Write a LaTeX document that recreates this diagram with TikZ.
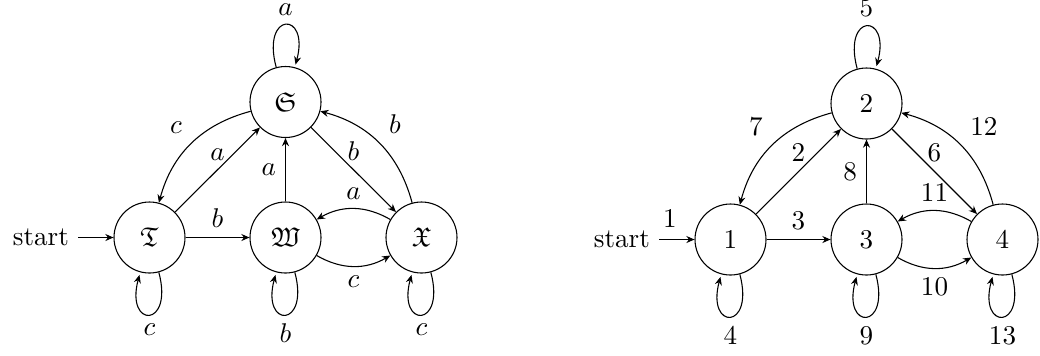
\documentclass[tikz,border=0pt]{standalone}
\usepackage{amssymb}
\usetikzlibrary{arrows.meta,positioning}
\begin{document}
\begin{tikzpicture}[x=0.369pt,y=0.369pt,
  >={Stealth[length=3pt,width=2.6pt]},
  st/.style={circle,draw,minimum size=26.2pt,inner sep=0pt}]
\useasboundingbox (0,0) rectangle (1040,-355);
% left automaton
\node[st] (T) at (149.5,-237.5) {$\mathfrak{T}$};
\node[st] (W) at (285.5,-237.5) {$\mathfrak{W}$};
\node[st] (X) at (421.5,-237.5) {$\mathfrak{X}$};
\node[st] (S) at (285.5,-102) {$\mathfrak{S}$};
\node (sT) [left=3ex of T] {start};
\draw[->] (sT) -- (T);
\path[->]
  (T) edge node[above] {$a$} (S)
      edge node[above] {$b$} (W)
      edge[loop below] node {$c$} ()
  (S) edge[bend right] node[above left] {$c$} (T)
      edge node[above] {$b$} (X)
      edge[loop above] node {$a$} ()
  (W) edge node[left] {$a$} (S)
      edge[bend right] node[below] {$c$} (X)
      edge[loop below] node {$b$} ()
  (X) edge[bend right] node[above right] {$b$} (S)
      edge[bend right] node[above] {$a$} (W)
      edge[loop below] node {$c$} ();
% right automaton
\node[st] (n1) at (730.5,-239.5) {1};
\node[st] (n3) at (866.5,-239.5) {3};
\node[st] (n4) at (1002.5,-239.5) {4};
\node[st] (n2) at (866.5,-103.5) {2};
\node (s1) [left=3ex of n1] {start};
\draw[->] (s1) -- node[above,pos=0.3,yshift=1pt] {1} (n1);
\path[->]
  (n1) edge node[above] {2} (n2)
       edge node[above] {3} (n3)
       edge[loop below] node {4} ()
  (n2) edge[bend right] node[above left] {7} (n1)
       edge node[above] {6} (n4)
       edge[loop above] node {5} ()
  (n3) edge node[left] {8} (n2)
       edge[bend right] node[below] {10} (n4)
       edge[loop below] node {9} ()
  (n4) edge[bend right] node[above right] {12} (n2)
       edge[bend right] node[above] {11} (n3)
       edge[loop below] node {13} ();
\end{tikzpicture}
\end{document}
